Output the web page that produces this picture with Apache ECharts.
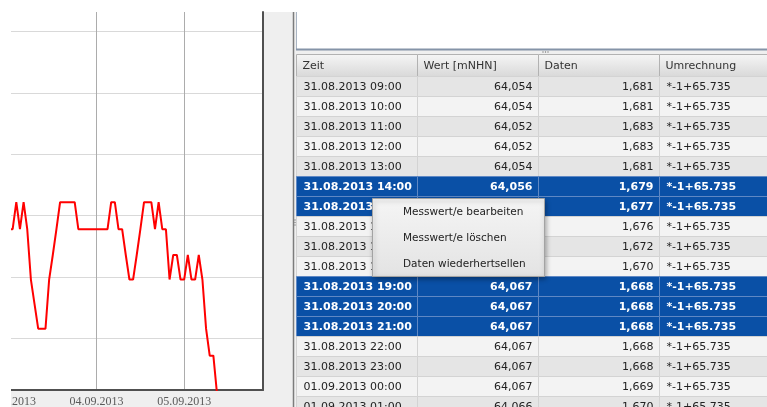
<!DOCTYPE html>
<html><head><meta charset="utf-8">
<script src="https://cdn.jsdelivr.net/npm/echarts@6/dist/echarts.min.js"></script>
<style>html,body{margin:0;padding:0;background:#fff;}#c{width:767px;height:407px;}</style>
</head><body><div id="c"></div>
<script>
// ---- line chart data (hourly readings) ----
const lineTimes = [
 '03.09.2013 00:00','03.09.2013 01:00','03.09.2013 02:00','03.09.2013 03:00','03.09.2013 04:00','03.09.2013 05:00',
 '03.09.2013 06:00','03.09.2013 07:00','03.09.2013 08:00','03.09.2013 09:00','03.09.2013 10:00','03.09.2013 11:00',
 '03.09.2013 12:00','03.09.2013 13:00','03.09.2013 14:00','03.09.2013 15:00','03.09.2013 16:00','03.09.2013 17:00',
 '03.09.2013 18:00','03.09.2013 19:00','03.09.2013 20:00','03.09.2013 21:00','03.09.2013 22:00','03.09.2013 23:00',
 '04.09.2013 00:00','04.09.2013 01:00','04.09.2013 02:00','04.09.2013 03:00','04.09.2013 04:00','04.09.2013 05:00',
 '04.09.2013 06:00','04.09.2013 07:00','04.09.2013 08:00','04.09.2013 09:00','04.09.2013 10:00','04.09.2013 11:00',
 '04.09.2013 12:00','04.09.2013 13:00','04.09.2013 14:00','04.09.2013 15:00','04.09.2013 16:00','04.09.2013 17:00',
 '04.09.2013 18:00','04.09.2013 19:00','04.09.2013 20:00','04.09.2013 21:00','04.09.2013 22:00','04.09.2013 23:00',
 '05.09.2013 00:00','05.09.2013 01:00','05.09.2013 02:00','05.09.2013 03:00','05.09.2013 04:00','05.09.2013 05:00',
 '05.09.2013 06:00','05.09.2013 07:00','05.09.2013 08:00','05.09.2013 09:00'
];
const lineValues = [
 64.0589,64.0589,64.0611,64.0589,64.0611,64.0589,
 64.0548,64.0528,64.0508,64.0508,64.0508,64.0548,
 64.0568,64.0589,64.0611,64.0611,64.0611,64.0611,
 64.0611,64.0589,64.0589,64.0589,64.0589,64.0589,
 64.0589,64.0589,64.0589,64.0589,64.0611,64.0611,
 64.0589,64.0589,64.0568,64.0548,64.0548,64.0568,
 64.0589,64.0611,64.0611,64.0611,64.0589,64.0611,
 64.0589,64.0589,64.0548,64.0568,64.0568,64.0548,
 64.0548,64.0568,64.0548,64.0548,64.0568,64.0548,
 64.0508,64.0486,64.0486,64.0455
];
const xTickLabels = ['03.09.2013','04.09.2013','05.09.2013'];

// ---- table data ----
const tableHeader = ['Zeit','Wert [mNHN]','Daten','Umrechnung'];
const colZeit = ['31.08.2013 09:00','31.08.2013 10:00','31.08.2013 11:00','31.08.2013 12:00','31.08.2013 13:00',
 '31.08.2013 14:00','31.08.2013 15:00','31.08.2013 16:00','31.08.2013 17:00','31.08.2013 18:00','31.08.2013 19:00',
 '31.08.2013 20:00','31.08.2013 21:00','31.08.2013 22:00','31.08.2013 23:00','01.09.2013 00:00','01.09.2013 01:00'];
const colWert = ['64,054','64,054','64,052','64,052','64,054','64,056','64,058','64,059','64,063','64,065',
 '64,067','64,067','64,067','64,067','64,067','64,067','64,066'];
const colDaten = ['1,681','1,681','1,683','1,683','1,681','1,679','1,677','1,676','1,672','1,670',
 '1,668','1,668','1,668','1,668','1,668','1,669','1,670'];
const colUmrechnung = ['*-1+65.735','*-1+65.735','*-1+65.735','*-1+65.735','*-1+65.735','*-1+65.735',
 '*-1+65.735','*-1+65.735','*-1+65.735','*-1+65.735','*-1+65.735','*-1+65.735','*-1+65.735',
 '*-1+65.735','*-1+65.735','*-1+65.735','*-1+65.735'];
const selectedRows = [5,6,10,11,12];
const menuItems = ['Messwert/e bearbeiten','Messwert/e löschen','Daten wiederhertsellen'];

// ---- helpers ----
function parseDT(s){
  const [d, t] = s.split(' ');
  const [dd, mm, yy] = d.split('.').map(Number);
  const [hh, mi] = (t || '00:00').split(':').map(Number);
  return Date.UTC(yy, mm - 1, dd, hh, mi);
}
const DAY = 86400000;
const xMin = parseDT(xTickLabels[0]);
const xMax = xMin + 69.6 * 3600000;
const tickMap = {};
xTickLabels.forEach(l => { tickMap[parseDT(l)] = l; });

const columns = [colZeit, colWert, colDaten, colUmrechnung];
const colAlign = ['left','right','right','left'];
const cellData = [];
for (let r = 0; r < colZeit.length; r++) for (let c = 0; c < 4; c++) cellData.push([c, r]);
const FONT = '"DejaVu Sans", sans-serif';

const chart = echarts.init(document.getElementById('c'), null, {renderer: 'canvas'});
chart.setOption({
  animation: false,
  backgroundColor: '#ffffff',
  grid: [
    {left: 9, right: 504, top: 12, bottom: 17, containLabel: false, outerBoundsMode: 'none'},
    {left: 296.5, width: 484, top: 54.5, height: 353, containLabel: false, outerBoundsMode: 'none'}
  ],
  xAxis: [
    {type: 'value', gridIndex: 0, min: xMin, max: xMax, interval: DAY,
     axisLine: {show: true, lineStyle: {color: '#505050', width: 2}},
     axisTick: {show: false},
     axisLabel: {show: true, margin: 6, color: '#5a5a5a', fontFamily: '"Liberation Serif", serif', fontSize: 12,
       showMinLabel: true, showMaxLabel: false,
       formatter: v => tickMap[v] || ''},
     splitLine: {show: true, showMinLine: false, showMaxLine: false, lineStyle: {color: '#acacac', width: 1}}},
    {type: 'value', gridIndex: 1, min: 0, max: 4, show: false}
  ],
  yAxis: [
    {type: 'value', gridIndex: 0, min: 64.0458, max: 64.0766, position: 'right', splitNumber: 5,
     axisLine: {show: true, onZero: false, lineStyle: {color: '#505050', width: 2}},
     axisTick: {show: false}, axisLabel: {show: false},
     splitLine: {show: true, showMinLine: false, showMaxLine: false, lineStyle: {color: '#d9d9d9', width: 1}}},
    {type: 'value', gridIndex: 1, min: -1.1, max: 16.55, inverse: true, show: false}
  ],
  series: [
    {type: 'line', xAxisIndex: 0, yAxisIndex: 0, showSymbol: false, symbol: 'none', clip: true,
     lineStyle: {color: '#ff0000', width: 2},
     data: lineTimes.map((t, i) => [parseDT(t), lineValues[i]])},
    {type: 'custom', xAxisIndex: 1, yAxisIndex: 1, z: 3,
     data: tableHeader.map((h, c) => [c, -1.1]),
     renderItem: function(params, api){
       const c = api.value(0);
       const p0 = api.coord([c, -1.1]), p1 = api.coord([c + 1, 0]);
       return {type: 'group', children: [
         {type: 'rect', shape: {x: p0[0], y: p0[1], width: p1[0] - p0[0], height: p1[1] - p0[1]},
          style: {fill: {type: 'linear', x: 0, y: 0, x2: 0, y2: 1,
                  colorStops: [{offset: 0, color: '#f6f6f6'}, {offset: 1, color: '#d8d8d8'}]},
                  stroke: '#b2b2b2', lineWidth: 1}},
         {type: 'text', x: p0[0] + 6, y: (p0[1] + p1[1]) / 2 + 0.5,
          style: {text: tableHeader[c], fill: '#333', fontSize: 11, fontFamily: FONT, align: 'left', verticalAlign: 'middle'}}
       ]};
     }},
    {type: 'custom', xAxisIndex: 1, yAxisIndex: 1, z: 3,
     data: cellData,
     renderItem: function(params, api){
       const c = api.value(0), r = api.value(1);
       const p0 = api.coord([c, r]), p1 = api.coord([c + 1, r + 1]);
       const x = p0[0], y = p0[1], w = p1[0] - p0[0], h = p1[1] - p0[1];
       const sel = selectedRows.indexOf(r) >= 0;
       const fill = sel ? '#0a50a6' : (r % 2 === 0 ? '#e5e5e5' : '#f3f3f3');
       const al = colAlign[c];
       return {type: 'group', children: [
         {type: 'rect', shape: {x: x, y: y, width: w, height: h},
          style: {fill: fill, stroke: sel ? '#5f88c4' : '#d3d3d3', lineWidth: 1}},
         {type: 'text', x: al === 'left' ? x + 7 : x + w - 6, y: y + h / 2 + 0.5,
          style: {text: columns[c][r], fill: sel ? '#ffffff' : '#222222', fontSize: 11,
                  fontWeight: sel ? 'bold' : 'normal', fontFamily: FONT, align: al, verticalAlign: 'middle'}}
       ]};
     }}
  ],
  graphic: [
    {type: 'rect', z: -10, shape: {x: 264, y: 12, width: 503, height: 395}, style: {fill: '#efefef'}},
    {type: 'rect', z: -10, shape: {x: 10, y: 391, width: 255, height: 16}, style: {fill: '#efefef'}},
    {type: 'line', z: 5, shape: {x1: 293.5, y1: 12, x2: 293.5, y2: 407}, style: {stroke: '#7c7c7c', lineWidth: 1.5}},
    {type: 'rect', z: 5, shape: {x: 296, y: 12, width: 471, height: 37}, style: {fill: '#ffffff'}},
    {type: 'line', z: 5, shape: {x1: 296.5, y1: 12, x2: 296.5, y2: 49}, style: {stroke: '#a9b4c2', lineWidth: 1}},
    {type: 'line', z: 5, shape: {x1: 296, y1: 49.5, x2: 767, y2: 49.5}, style: {stroke: '#8594a8', lineWidth: 2}},
    {type: 'circle', z: 5, shape: {cx: 543, cy: 52, r: 0.7}, style: {fill: '#777'}},
    {type: 'circle', z: 5, shape: {cx: 545.5, cy: 52, r: 0.7}, style: {fill: '#777'}},
    {type: 'circle', z: 5, shape: {cx: 548, cy: 52, r: 0.7}, style: {fill: '#777'}},
    {type: 'circle', z: 5, shape: {cx: 295, cy: 220, r: 0.7}, style: {fill: '#777'}},
    {type: 'circle', z: 5, shape: {cx: 295, cy: 222.5, r: 0.7}, style: {fill: '#777'}},
    {type: 'circle', z: 5, shape: {cx: 295, cy: 225, r: 0.7}, style: {fill: '#777'}},
    {type: 'rect', z: 50, shape: {x: 0, y: 0, width: 11, height: 407}, style: {fill: '#ffffff'}},
    {type: 'group', z: 100, children: [
      {type: 'rect', z: 100, shape: {x: 372.5, y: 198.5, width: 172, height: 78},
       style: {fill: {type: 'linear', x: 0, y: 0, x2: 0, y2: 1,
               colorStops: [{offset: 0, color: '#f5f5f5'}, {offset: 1, color: '#e3e3e3'}]},
               stroke: '#a3a3a3', lineWidth: 1, shadowBlur: 5, shadowColor: 'rgba(0,0,0,0.35)', shadowOffsetX: 1, shadowOffsetY: 2}},
      {type: 'text', z: 101, x: 403, y: 212, style: {text: menuItems[0], fill: '#222', fontSize: 10.5, fontFamily: FONT, verticalAlign: 'middle'}},
      {type: 'text', z: 101, x: 403, y: 238, style: {text: menuItems[1], fill: '#222', fontSize: 10.5, fontFamily: FONT, verticalAlign: 'middle'}},
      {type: 'text', z: 101, x: 403, y: 264, style: {text: menuItems[2], fill: '#222', fontSize: 10.5, fontFamily: FONT, verticalAlign: 'middle'}}
    ]}
  ]
});
</script></body></html>
